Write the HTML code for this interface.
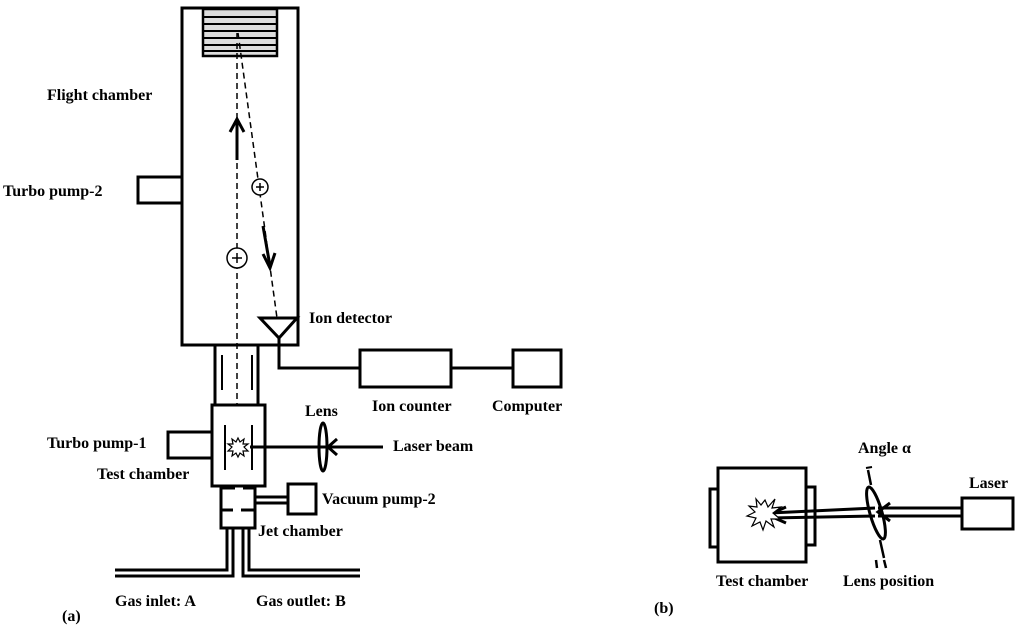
<!DOCTYPE html>
<html><head><meta charset="utf-8"><style>
html,body{margin:0;padding:0;background:#fff;}
svg{display:block;}
text{font-family:"Liberation Serif",serif;font-weight:bold;font-size:16px;fill:#000;}
</style></head><body>
<svg width="1024" height="631" viewBox="0 0 1024 631" xmlns="http://www.w3.org/2000/svg">
<g fill="none" stroke="#000" stroke-width="3">
<rect x="182" y="8" width="116" height="337" fill="#fff"/>
<rect x="203" y="9" width="74" height="47" fill="#ddd" stroke-width="2.5"/>
</g>
<g stroke="#000" stroke-width="2">
<line x1="204" y1="17" x2="276" y2="17"/><line x1="204" y1="24" x2="276" y2="24"/>
<line x1="204" y1="31" x2="276" y2="31"/><line x1="204" y1="38" x2="276" y2="38"/>
<line x1="204" y1="45" x2="276" y2="45"/><line x1="204" y1="51" x2="276" y2="51"/>
</g>
<g fill="none" stroke="#000" stroke-width="3">
<rect x="138" y="177" width="44" height="26"/>
</g>
<g stroke="#000" stroke-width="1.5" stroke-dasharray="6,4" fill="none">
<line x1="237" y1="33" x2="237" y2="405"/>
<line x1="238" y1="33" x2="277" y2="318"/>
</g>
<g stroke="#000" stroke-width="3" fill="none">
<line x1="237" y1="160" x2="237" y2="120"/>
<polyline points="230,132 237,119 244,132"/>
<line x1="263" y1="226" x2="270" y2="266"/>
<polyline points="263,254 270,268 275,253"/>
</g>
<g stroke="#000" stroke-width="1.5" fill="#fff">
<circle cx="237" cy="258" r="10"/><circle cx="260" cy="187" r="8"/>
</g>
<g stroke="#000" stroke-width="1.5">
<line x1="232" y1="258" x2="242" y2="258"/><line x1="237" y1="253" x2="237" y2="263"/>
<line x1="256" y1="187" x2="264" y2="187"/><line x1="260" y1="183" x2="260" y2="191"/>
</g>
<g fill="none" stroke="#000" stroke-width="3">
<polygon points="260,318 297,318 279,338" fill="#fff"/>
<polyline points="279,338 279,368 360,368"/>
<rect x="360" y="350" width="91" height="37"/>
<line x1="451" y1="368" x2="513" y2="368"/>
<rect x="513" y="350" width="48" height="37"/>
<line x1="215" y1="345" x2="215" y2="405"/><line x1="258" y1="345" x2="258" y2="405"/>
</g>
<g stroke="#000" stroke-width="2">
<line x1="222" y1="355" x2="222" y2="390"/><line x1="252" y1="355" x2="252" y2="390"/>
</g>
<g fill="none" stroke="#000" stroke-width="3">
<rect x="212" y="405" width="53" height="81" fill="#fff"/>
<rect x="168" y="432" width="44" height="26"/>
<line x1="250" y1="447" x2="383" y2="447"/>
<polyline points="337,439 328,447 337,455"/>
<ellipse cx="323" cy="447" rx="4" ry="24"/>
<polyline points="221,486 221,528 255,528 255,486"/>
<line x1="255" y1="497" x2="288" y2="497"/><line x1="255" y1="503" x2="288" y2="503"/>
<rect x="288" y="484" width="28" height="30"/>
<line x1="221" y1="488" x2="235" y2="488"/><line x1="243" y1="488" x2="255" y2="488"/>
<line x1="221" y1="510" x2="233" y2="510"/><line x1="241" y1="510" x2="255" y2="510"/>
<polyline points="227,528 227,570 115,570"/><polyline points="233,528 233,576 115,576"/>
<polyline points="249,528 249,570 360,570"/><polyline points="243,528 243,576 360,576"/>
</g>
<g stroke="#000" stroke-width="2">
<line x1="225" y1="425" x2="225" y2="470"/><line x1="252" y1="425" x2="252" y2="470"/>
</g>
<polygon points="238,438 240,442 244,439 243,444 248,444 244,447 248,451 243,451 244,456 240,453 238,457 236,453 232,456 233,451 228,451 232,447 228,444 233,444 232,439 236,442" fill="#fff" stroke="#000" stroke-width="1.2"/>
<g fill="none" stroke="#000" stroke-width="3">
<rect x="710" y="489" width="9" height="58"/>
<rect x="805" y="487" width="10" height="58"/>
<rect x="718" y="468" width="88" height="94" fill="#fff"/>
<rect x="962" y="498" width="51" height="31"/>
<line x1="962" y1="508" x2="878" y2="508"/><line x1="962" y1="516" x2="878" y2="516"/>
<line x1="875" y1="508" x2="770" y2="513"/><line x1="875" y1="516" x2="770" y2="518"/>
<polyline points="786,507 768,515 786,523"/>
<polyline points="890,503 878,512 890,521"/>
<ellipse cx="876" cy="513" rx="6" ry="27" transform="rotate(-16 876 513)"/>
</g>
<line x1="868" y1="470" x2="871" y2="485" stroke="#000" stroke-width="2.5"/>
<line x1="866" y1="468" x2="872" y2="467" stroke="#000" stroke-width="2"/>
<line x1="880" y1="540" x2="884" y2="558" stroke="#000" stroke-width="2.5"/>
<line x1="876" y1="560" x2="877" y2="568" stroke="#000" stroke-width="2.5"/>
<line x1="884" y1="560" x2="886" y2="568" stroke="#000" stroke-width="2.5"/>
<polygon points="765,500 768,507 775,499 772,508 781,507 773,513 780,519 771,519 774,527 766,521 763,530 760,522 752,526 756,518 747,516 755,512 749,506 757,507 756,499 761,505" fill="#fff" stroke="#000" stroke-width="1.2"/>
<text x="47" y="100">Flight chamber</text>
<text x="3" y="196">Turbo pump-2</text>
<text x="309" y="323">Ion detector</text>
<text x="372" y="411">Ion counter</text>
<text x="492" y="411">Computer</text>
<text x="305" y="416">Lens</text>
<text x="393" y="451">Laser beam</text>
<text x="47" y="448">Turbo pump-1</text>
<text x="97" y="479">Test chamber</text>
<text x="322" y="504">Vacuum pump-2</text>
<text x="258" y="536">Jet chamber</text>
<text x="115" y="606">Gas inlet: A</text>
<text x="256" y="606">Gas outlet: B</text>
<text x="62" y="621">(a)</text>
<text x="654" y="613">(b)</text>
<text x="858" y="453">Angle α</text>
<text x="969" y="488">Laser</text>
<text x="716" y="586">Test chamber</text>
<text x="843" y="586">Lens position</text>
</svg>
</body></html>
